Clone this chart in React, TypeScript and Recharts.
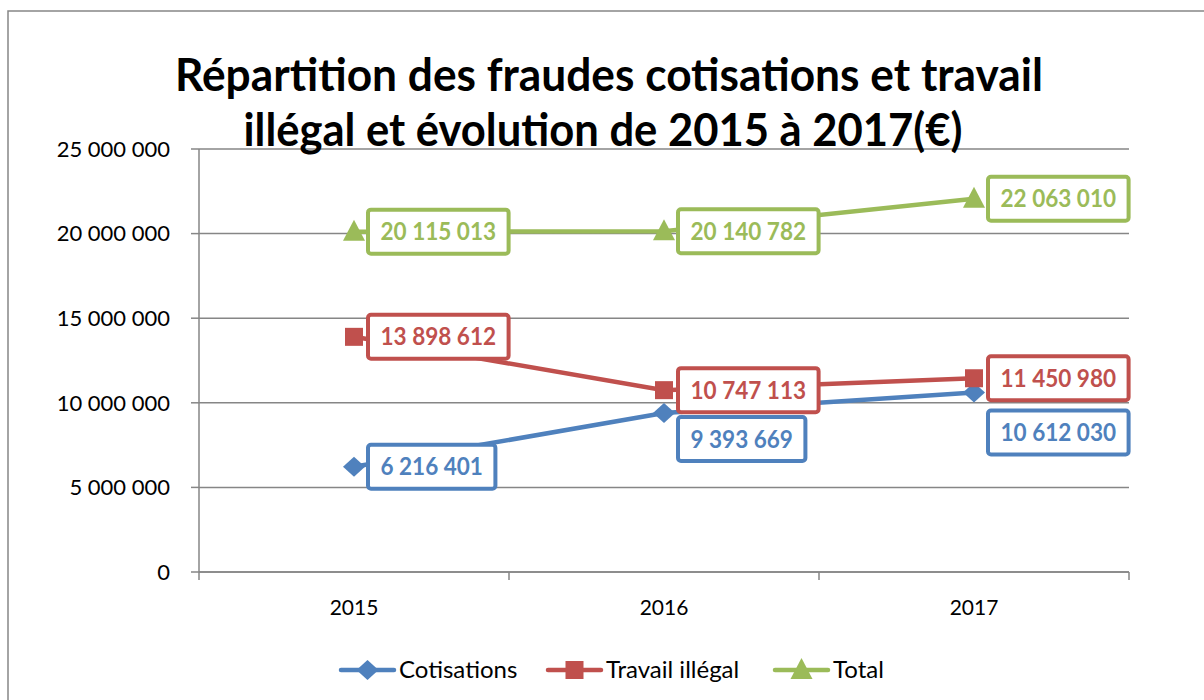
import React from 'react';
import { LineChart, Line, XAxis, YAxis, CartesianGrid, LabelList } from 'recharts';

const years = ['2015', '2016', '2017'];
const cotisations = [6216401, 9393669, 10612030];
const travailIllegal = [13898612, 10747113, 11450980];
const total = [20115013, 20140782, 22063010];
const yTicks = [0, 5000000, 10000000, 15000000, 20000000, 25000000];

const BLUE = '#4F81BD';
const RED = '#C0504D';
const GREEN = '#9BBB59';
const GRAY = '#868686';
const FONT = 'Lato, "Open Sans", sans-serif';

const W = 1204;
const H = 700;
const M = { top: 149, right: 75, bottom: 88, left: 0 };
const Y_AXIS_W = 199;
const PLOT_W = W - Y_AXIS_W - M.right;
const HALF_BAND = PLOT_W / years.length / 2;

// Excel moved some labels by hand so they don't overlap
const labelShift: Record<string, number[]> = {
  cotisations: [0, 26, 40],
  travail: [0, 0, 0],
  total: [0, 0, 0],
};

const data = years.map((year, i) => ({
  year,
  cotisations: cotisations[i],
  travail: travailIllegal[i],
  total: total[i],
}));

const fmt = (n: number) => String(n).replace(/\B(?=(\d{3})+(?!\d))/g, ' ');

const textWidth = (s: string) => {
  let w = 0;
  for (const c of s) w += c === ' ' ? 5 : 13.2;
  return w;
};

const makeLabel = (key: string, color: string) => (props: any) => {
  const { x, y, value, index } = props;
  const s = fmt(Number(value));
  const tw = textWidth(s);
  const bw = tw + 25;
  const bh = 44;
  const cy = y + labelShift[key][index];
  const bx = x + 14;
  return (
    <g>
      <rect x={bx} y={cy - bh / 2} width={bw} height={bh} rx={3} fill="#fff" stroke={color} strokeWidth={4} />
      <text
        x={bx + 12.5}
        y={cy + 8.5}
        fill={color}
        fontFamily={FONT}
        fontWeight={700}
        fontSize={24}
        textLength={tw}
        lengthAdjust="spacingAndGlyphs"
      >
        {s}
      </text>
    </g>
  );
};

const diamond = (cx: number, cy: number, color: string, key?: any) => (
  <path key={key} d={`M${cx},${cy - 10} L${cx + 11},${cy} L${cx},${cy + 10} L${cx - 11},${cy} Z`} fill={color} />
);
const square = (cx: number, cy: number, color: string, key?: any) => (
  <rect key={key} x={cx - 9} y={cy - 9} width={18} height={18} fill={color} />
);
const triangle = (cx: number, cy: number, color: string, key?: any) => (
  <path key={key} d={`M${cx},${cy - 12} L${cx + 11},${cy + 9} L${cx - 11},${cy + 9} Z`} fill={color} />
);

const XTick = (props: any) => {
  const { x, y, payload, index } = props;
  return (
    <g>
      <line x1={x - HALF_BAND} x2={x - HALF_BAND} y1={y} y2={y + 8} stroke={GRAY} strokeWidth={1.5} />
      {index === years.length - 1 && (
        <line x1={x + HALF_BAND} x2={x + HALF_BAND} y1={y} y2={y + 8} stroke={GRAY} strokeWidth={1.5} />
      )}
      <text x={x} y={y + 43} textAnchor="middle" fontFamily={FONT} fontSize={21} fill="#000">
        {payload.value}
      </text>
    </g>
  );
};

const legendItems = [
  { name: 'Cotisations', color: BLUE, shape: diamond, x: 341 },
  { name: 'Travail illégal', color: RED, shape: square, x: 548 },
  { name: 'Total', color: GREEN, shape: triangle, x: 775 },
];

export default function App() {
  return (
    <div style={{ position: 'absolute', left: 0, top: 0, width: W, height: H, overflow: 'hidden', background: '#fff' }}>
      <LineChart width={W} height={H} data={data} margin={M}>
        <CartesianGrid vertical={false} stroke={GRAY} strokeWidth={1.5} />
        <XAxis
          dataKey="year"
          height={40}
          padding={{ left: HALF_BAND, right: HALF_BAND }}
          tickSize={0}
          tickMargin={0}
          tickLine={false}
          axisLine={{ stroke: GRAY, strokeWidth: 1.5 }}
          tick={<XTick />}
          interval={0}
        />
        <YAxis
          width={Y_AXIS_W}
          domain={[0, 25000000]}
          ticks={yTicks}
          interval={0}
          tickSize={8}
          tickMargin={21}
          tickFormatter={fmt}
          axisLine={{ stroke: GRAY, strokeWidth: 1.5 }}
          tickLine={{ stroke: GRAY, strokeWidth: 1.5 }}
          tick={{ fontFamily: FONT, fontSize: 22, fill: '#000' }}
        />
        <Line
          dataKey="cotisations"
          stroke={BLUE}
          strokeWidth={4.5}
          isAnimationActive={false}
          dot={(p: any) => diamond(p.cx, p.cy, BLUE, p.index)}
          activeDot={false}
        >
          <LabelList dataKey="cotisations" content={makeLabel('cotisations', BLUE)} />
        </Line>
        <Line
          dataKey="travail"
          stroke={RED}
          strokeWidth={4.5}
          isAnimationActive={false}
          dot={(p: any) => square(p.cx, p.cy, RED, p.index)}
          activeDot={false}
        >
          <LabelList dataKey="travail" content={makeLabel('travail', RED)} />
        </Line>
        <Line
          dataKey="total"
          stroke={GREEN}
          strokeWidth={4.5}
          isAnimationActive={false}
          dot={(p: any) => triangle(p.cx, p.cy, GREEN, p.index)}
          activeDot={false}
        >
          <LabelList dataKey="total" content={makeLabel('total', GREEN)} />
        </Line>
      </LineChart>

      <svg width={W} height={H} style={{ position: 'absolute', left: 0, top: 0, pointerEvents: 'none' }}>
        <rect x={8} y={11} width={1400} height={900} fill="none" stroke={GRAY} strokeWidth={1.5} />
        <text x={609} y={91} textAnchor="middle" fontFamily={FONT} fontWeight={700} fontSize={46} textLength={868} lengthAdjust="spacingAndGlyphs">
          Répartition des fraudes cotisations et travail
        </text>
        <text x={603} y={146} textAnchor="middle" fontFamily={FONT} fontWeight={700} fontSize={46} textLength={719} lengthAdjust="spacingAndGlyphs">
          illégal et évolution de 2015 à 2017(€)
        </text>
        {legendItems.map((it) => (
          <g key={it.name}>
            <line x1={it.x} x2={it.x + 53} y1={670} y2={670} stroke={it.color} strokeWidth={4.5} strokeLinecap="round" />
            {it.shape(it.x + 26.5, 670, it.color)}
            <text x={it.x + 58} y={678} fontFamily={FONT} fontSize={24} fill="#000">
              {it.name}
            </text>
          </g>
        ))}
      </svg>
    </div>
  );
}
